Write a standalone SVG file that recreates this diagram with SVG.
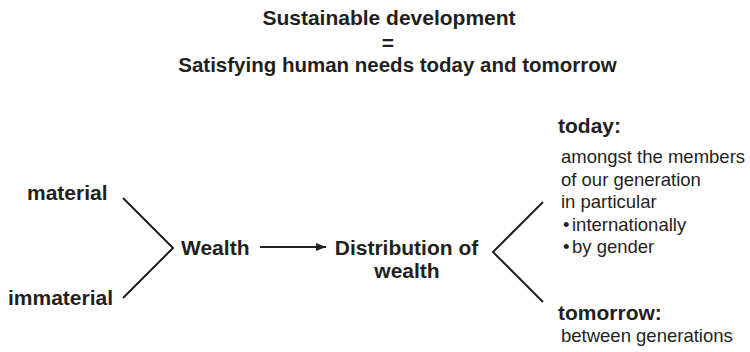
<svg xmlns="http://www.w3.org/2000/svg" width="750" height="352" viewBox="0 0 750 352">
  <style>
    .b { font-family: "Liberation Sans", Arial, sans-serif; font-weight: bold; font-size: 21px; fill: #231f20; }
    .r { font-family: "Liberation Sans", Arial, sans-serif; font-size: 18.5px; fill: #231f20; }
    .ln { stroke: #231f20; stroke-width: 2; fill: none; }
  </style>
  <defs>
    <marker id="ah" markerWidth="10" markerHeight="8" refX="10" refY="4" orient="auto" markerUnits="userSpaceOnUse">
      <path d="M0,0 L10,4 L0,8 Z" fill="#231f20"/>
    </marker>
  </defs>
  <rect width="750" height="352" fill="#ffffff"/>

  <g id="title">
    <text class="b" x="389" y="25" text-anchor="middle">Sustainable development</text>
    <text class="b" x="388" y="50" text-anchor="middle">=</text>
    <text class="b" x="397.5" y="72" text-anchor="middle" style="font-size:20.5px">Satisfying human needs today and tomorrow</text>
  </g>

  <g id="material"><text class="b" x="27" y="200">material</text></g>
  <g id="immaterial"><text class="b" x="8" y="305">immaterial</text></g>
  <g id="wealth"><text class="b" x="181" y="255">Wealth</text></g>
  <g id="distribution">
    <text class="b" x="406.5" y="255" text-anchor="middle">Distribution of</text>
    <text class="b" x="407" y="278" text-anchor="middle">wealth</text>
  </g>
  <g id="today">
    <text class="b" x="558" y="133">today:</text>
    <text class="r" x="561" y="163">amongst the members</text>
    <text class="r" x="561" y="186">of our generation</text>
    <text class="r" x="561" y="208">in particular</text>
    <text class="r" x="563" y="231">•<tspan x="572">internationally</tspan></text>
    <text class="r" x="563" y="253">•<tspan x="572">by gender</tspan></text>
  </g>
  <g id="tomorrow">
    <text class="b" x="558" y="320">tomorrow:</text>
    <text class="r" x="561" y="342">between generations</text>
  </g>

  <g id="connectors">
    <polyline class="ln" points="123,198 173,248 123,298"/>
    <line class="ln" x1="260" y1="247" x2="326" y2="247" marker-end="url(#ah)"/>
    <polyline class="ln" points="543,202 493,252 543,302"/>
  </g>
</svg>
